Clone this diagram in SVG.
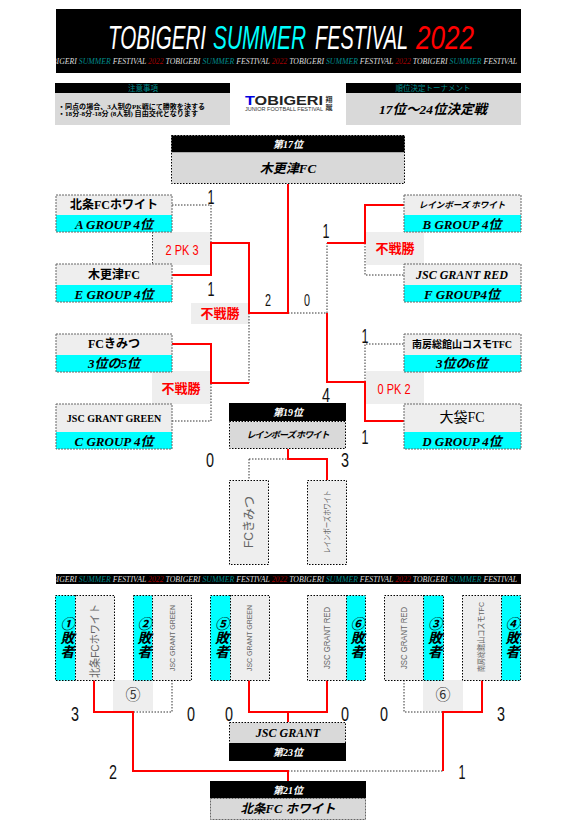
<svg xmlns="http://www.w3.org/2000/svg" width="577" height="828" viewBox="0 0 577 828">
<style>
text{font-family:"Liberation Serif","Noto Sans CJK JP",serif;text-anchor:middle;dominant-baseline:central}
.blk{fill:#000}.gry{fill:#d9d9d9}.lgt{fill:#eee}.cy{fill:#0ff}
.bd{fill:none;stroke:#666;stroke-width:1;stroke-dasharray:2 1}
.dt{fill:none;stroke:#000;stroke-width:1;stroke-dasharray:1.5 1.5}
.win{fill:none;stroke:#f00;stroke-width:2}
.lose{fill:none;stroke:#333;stroke-width:1;stroke-dasharray:1.5 1.5}
.n{font-size:12px;font-weight:bold;fill:#000}
.g{font-size:13px;font-style:italic;font-weight:bold;fill:#000}
.rk{font-size:10px;font-style:italic;font-weight:bold;fill:#fff}
.sc{font-family:"Liberation Sans",sans-serif;font-size:21px;fill:#111}
.sm{font-family:"Liberation Sans",sans-serif;font-size:16px;fill:#111}
.red{font-size:13px;font-weight:bold;fill:#f00}
.pk{font-family:"Liberation Sans",sans-serif;font-size:15px;fill:#f00}
.ban{font-size:8.7px;font-style:italic;fill:#ddd;text-anchor:start}
.v{font-family:"Liberation Sans","Noto Sans CJK JP",sans-serif;font-size:11px;fill:#666}
.lose2{font-size:14px;font-weight:bold;font-style:italic;fill:#000;writing-mode:vertical-rl}
.tt{font-family:"Liberation Sans",sans-serif;font-size:34px;font-style:italic;text-anchor:start}
</style>
<defs>
<clipPath id="c1"><rect x="56" y="9" width="465" height="64"/></clipPath>
<clipPath id="c2"><rect x="56" y="574" width="465" height="10"/></clipPath>
<text id="banner" class="ban" textLength="475" lengthAdjust="spacingAndGlyphs"><tspan>TOBIGERI </tspan><tspan fill="#008b8b">SUMMER </tspan><tspan>FESTIVAL </tspan><tspan fill="#a00000">2022 </tspan><tspan>TOBIGERI </tspan><tspan fill="#008b8b">SUMMER </tspan><tspan>FESTIVAL </tspan><tspan fill="#a00000">2022 </tspan><tspan>TOBIGERI </tspan><tspan fill="#008b8b">SUMMER </tspan><tspan>FESTIVAL </tspan><tspan fill="#a00000">2022 </tspan><tspan>TOBIGERI </tspan><tspan fill="#008b8b">SUMMER </tspan><tspan>FESTIVAL</tspan></text>
</defs>

<g id="header">
<rect x="56" y="9" width="465" height="64" class="blk"/>
<text x="108" y="37" class="tt" fill="#fff" textLength="98" lengthAdjust="spacingAndGlyphs">TOBIGERI</text>
<text x="213" y="37" class="tt" fill="#0ff" textLength="93" lengthAdjust="spacingAndGlyphs">SUMMER</text>
<text x="315" y="37" class="tt" fill="#fff" textLength="93" lengthAdjust="spacingAndGlyphs">FESTIVAL</text>
<text x="416" y="37" class="tt" fill="#f00" textLength="58" lengthAdjust="spacingAndGlyphs">2022</text>
<g clip-path="url(#c1)"><use href="#banner" x="42" y="61"/></g>
</g>
<g id="notes">
<rect x="55" y="83" width="175" height="10" class="blk"/>
<rect x="55" y="93" width="175" height="32" class="gry"/>
<text x="143" y="88" font-size="7.5" fill="#008b8b">注意事項</text>
<text x="58" y="106.500" font-size="7" font-weight="bold" textLength="147" lengthAdjust="spacingAndGlyphs" style="text-anchor:start">・同点の場合、3人制のPK戦にて勝敗を決する</text>
<text x="58" y="113.500" font-size="7" font-weight="bold" textLength="140" lengthAdjust="spacingAndGlyphs" style="text-anchor:start">・18分-8分-18分 (8人制) 自由交代となります</text>
</g>
<g id="logo">
<text x="284" y="101" font-size="12" font-weight="bold" textLength="78" lengthAdjust="spacingAndGlyphs" style="font-family:'Liberation Sans',sans-serif" fill="#222"><tspan fill="#0000e0">T</tspan>OBIGERI</text>
<text x="284" y="109" font-size="4.5" textLength="78" lengthAdjust="spacingAndGlyphs" style="font-family:'Liberation Sans',sans-serif" fill="#333">JUNIOR FOOTBALL FESTIVAL</text>
<text x="329" y="100" font-size="7" font-weight="bold" fill="#333">翔</text>
<text x="329" y="108" font-size="7" font-weight="bold" fill="#333">蹴</text>
</g>
<g id="stage">
<rect x="346" y="83" width="175" height="10" class="blk"/>
<rect x="346" y="93" width="175" height="32" class="gry"/>
<text x="433" y="88" font-size="7.5" fill="#008b8b">順位決定トーナメント</text>
<text x="433" y="109" font-size="13.500" font-weight="bold" font-style="italic">17位～24位決定戦</text>
</g>

<g id="labels">
<rect x="153" y="232" width="58" height="33" class="lgt"/><path class="lose" d="M152.500 232V264"/><text x="182" y="249" class="pk" textLength="33" lengthAdjust="spacingAndGlyphs">2 PK 3</text>
<rect x="191" y="303" width="58" height="21" class="lgt"/><text x="220" y="313" class="red">不戦勝</text>
<rect x="152" y="371" width="59" height="33" class="lgt"/><text x="181" y="388" class="red">不戦勝</text>
<rect x="366" y="232" width="58" height="33" class="lgt"/><text x="395" y="248" class="red">不戦勝</text>
<rect x="366" y="371" width="58" height="33" class="lgt"/><text x="394" y="388" class="pk" textLength="33" lengthAdjust="spacingAndGlyphs">0 PK 2</text>
<rect x="113" y="680" width="40" height="31" class="lgt"/><text x="133" y="695" font-size="15" fill="#333">⑤</text>
<rect x="423" y="680" width="40" height="31" class="lgt"/><text x="443" y="695" font-size="15" fill="#333">⑥</text>
</g>

<g id="connectors">
<path class="lose" d="M172 205H211V243M249 313V383M288 313H327V243M365 243V275H404M365 382V344H404M172 421H211V383M249 459V480M249 459H288M172 680V712H133M404 680V712H443M288 771H443"/>
<path class="win" d="M172 275H211V243H249V313H288V184M172 344H211V383H249M327 243H365V205H404M327 313V382H365V421H404M288 449V459H327V480M94 680V712H133V771H288V781M249 680V712H327V680M288 712V722M443 771V712H482V680"/>
</g>

<g id="n17">
<rect x="171.500" y="135.500" width="233" height="17" class="blk"/>
<rect x="171.500" y="152.500" width="233" height="31" class="gry"/>
<rect x="171.500" y="135.500" width="233" height="48" class="dt"/>
<text x="288" y="144" class="rk">第17位</text>
<text x="288" y="168" class="g">木更津FC</text>
</g>

<g id="a4"><rect x="56" y="195" width="116" height="20" class="lgt"/><rect x="56" y="215" width="116" height="17" class="cy"/><rect x="56" y="195" width="116" height="37" class="bd"/><text x="114" y="205" class="n">北条FCホワイト</text><text x="114" y="224" class="g">A GROUP 4位</text></g>
<g id="e4"><rect x="56" y="264" width="116" height="21" class="lgt"/><rect x="56" y="285" width="116" height="17" class="cy"/><rect x="56" y="264" width="116" height="38" class="bd"/><text x="114" y="275" class="n">木更津FC</text><text x="114" y="294" class="g">E GROUP 4位</text></g>
<g id="r5"><rect x="56" y="334" width="116" height="21" class="lgt"/><rect x="56" y="355" width="116" height="17" class="cy"/><rect x="56" y="334" width="116" height="38" class="bd"/><text x="114" y="344" class="n">FCきみつ</text><text x="114" y="363" class="g">3位の5位</text></g>
<g id="c4"><rect x="56" y="404" width="116" height="28" class="lgt"/><rect x="56" y="432" width="116" height="17" class="cy"/><rect x="56" y="404" width="116" height="45" class="bd"/><text x="114" y="418" class="n" style="font-size:10px">JSC GRANT GREEN</text><text x="114" y="441" class="g">C GROUP 4位</text></g>

<g id="b4"><rect x="404" y="195" width="117" height="20" class="lgt"/><rect x="404" y="215" width="117" height="17" class="cy"/><rect x="404" y="195" width="117" height="37" class="bd"/><text x="462" y="205" class="n" style="font-size:8.5px;font-style:italic">レインボーズ ホワイト</text><text x="462" y="224" class="g">B GROUP 4位</text></g>
<g id="f4"><rect x="404" y="264" width="117" height="21" class="lgt"/><rect x="404" y="285" width="117" height="17" class="cy"/><rect x="404" y="264" width="117" height="38" class="bd"/><text x="462" y="275" class="n" style="font-size:12px;font-style:italic">JSC GRANT RED</text><text x="462" y="294" class="g">F GROUP4位</text></g>
<g id="r6"><rect x="404" y="334" width="117" height="21" class="lgt"/><rect x="404" y="355" width="117" height="17" class="cy"/><rect x="404" y="334" width="117" height="38" class="bd"/><text x="462" y="344" class="n" style="font-size:10px">南房総館山コスモTFC</text><text x="462" y="363" class="g">3位の6位</text></g>
<g id="d4"><rect x="404" y="404" width="117" height="28" class="lgt"/><rect x="404" y="432" width="117" height="17" class="cy"/><rect x="404" y="404" width="117" height="45" class="bd"/><text x="462" y="417" class="n" style="font-size:14px;font-weight:normal">大袋FC</text><text x="462" y="441" class="g">D GROUP 4位</text></g>

<g id="scores">
<text x="211" y="196" class="sc" textLength="7" lengthAdjust="spacingAndGlyphs">1</text><text x="211" y="288" class="sc" textLength="7" lengthAdjust="spacingAndGlyphs">1</text><text x="268" y="300" class="sm" textLength="6" lengthAdjust="spacingAndGlyphs">2</text><text x="307" y="300" class="sm" textLength="6" lengthAdjust="spacingAndGlyphs">0</text>
<text x="326" y="230" class="sc" textLength="7" lengthAdjust="spacingAndGlyphs">1</text><text x="365" y="335" class="sc" textLength="7" lengthAdjust="spacingAndGlyphs">1</text><text x="365" y="436" class="sc" textLength="7" lengthAdjust="spacingAndGlyphs">1</text><text x="326" y="394" class="sc" textLength="8" lengthAdjust="spacingAndGlyphs">4</text>
<text x="210" y="459" class="sc" textLength="8" lengthAdjust="spacingAndGlyphs">0</text><text x="345" y="459" class="sc" textLength="8" lengthAdjust="spacingAndGlyphs">3</text>
<text x="75" y="713" class="sc" textLength="8" lengthAdjust="spacingAndGlyphs">3</text><text x="191" y="713" class="sc" textLength="8" lengthAdjust="spacingAndGlyphs">0</text><text x="229" y="713" class="sc" textLength="8" lengthAdjust="spacingAndGlyphs">0</text><text x="345" y="713" class="sc" textLength="8" lengthAdjust="spacingAndGlyphs">0</text><text x="384" y="713" class="sc" textLength="8" lengthAdjust="spacingAndGlyphs">0</text><text x="501" y="713" class="sc" textLength="8" lengthAdjust="spacingAndGlyphs">3</text>
<text x="113" y="771" class="sc" textLength="8" lengthAdjust="spacingAndGlyphs">2</text><text x="462" y="771" class="sc" textLength="7" lengthAdjust="spacingAndGlyphs">1</text>
</g>

<g id="n19">
<rect x="229" y="403" width="117" height="18" class="blk"/>
<rect x="229.500" y="421.500" width="116" height="27" class="gry"/>
<rect x="229.500" y="421.500" width="116" height="27" class="dt"/>
<text x="288" y="412" class="rk">第19位</text>
<text x="288" y="435" class="n" style="font-size:9px;font-style:italic" textLength="83" lengthAdjust="spacing">レインボーズ  ホワイト</text>
</g>
<g id="kimitsu"><rect x="229.500" y="480.500" width="39" height="84" class="lgt"/><rect x="229.500" y="480.500" width="39" height="84" class="dt"/><text transform="translate(248 522) rotate(-90)" class="v" style="font-size:13px" textLength="52" lengthAdjust="spacingAndGlyphs">FCきみつ</text></g>
<g id="rainbow"><rect x="307.500" y="480.500" width="39" height="84" class="lgt"/><rect x="307.500" y="480.500" width="39" height="84" class="dt"/><text transform="translate(327 522) rotate(-90)" class="v" style="font-size:8px" textLength="63" lengthAdjust="spacingAndGlyphs">レインボーズホワイト</text></g>

<g clip-path="url(#c2)" id="banner2"><rect x="56" y="574" width="465" height="10" class="blk"/><use href="#banner" x="42" y="579"/></g>

<g id="l1"><rect x="55.500" y="595.500" width="20" height="85" class="cy"/><rect x="75.500" y="595.500" width="39" height="85" class="lgt"/><rect x="55.500" y="595.500" width="59" height="85" class="dt"/><path class="dt" d="M75.500 595V680"/><text x="66" y="638" class="lose2">①敗者</text><text transform="translate(95 641) rotate(-90)" class="v" textLength="74" lengthAdjust="spacingAndGlyphs">北条FCホワイト</text></g>
<g id="l2"><rect x="133.500" y="595.500" width="19" height="85" class="cy"/><rect x="152.500" y="595.500" width="39" height="85" class="lgt"/><rect x="133.500" y="595.500" width="58" height="85" class="dt"/><path class="dt" d="M152.500 595V680"/><text x="143" y="638" class="lose2">②敗者</text><text transform="translate(172 638) rotate(-90)" class="v" style="font-size:8px" textLength="66" lengthAdjust="spacingAndGlyphs">JSC GRANT GREEN</text></g>
<g id="l5"><rect x="210.500" y="595.500" width="20" height="85" class="cy"/><rect x="230.500" y="595.500" width="39" height="85" class="lgt"/><rect x="210.500" y="595.500" width="59" height="85" class="dt"/><path class="dt" d="M230.500 595V680"/><text x="220.500" y="638" class="lose2">⑤敗者</text><text transform="translate(249 638) rotate(-90)" class="v" style="font-size:8px" textLength="66" lengthAdjust="spacingAndGlyphs">JSC GRANT GREEN</text></g>
<g id="l6"><rect x="307.500" y="595.500" width="39" height="85" class="lgt"/><rect x="346.500" y="595.500" width="19" height="85" class="cy"/><rect x="307.500" y="595.500" width="58" height="85" class="dt"/><path class="dt" d="M346.500 595V680"/><text x="356" y="638" class="lose2">⑥敗者</text><text transform="translate(327 638) rotate(-90)" class="v" style="font-size:9px" textLength="62" lengthAdjust="spacingAndGlyphs">JSC GRANT RED</text></g>
<g id="l3"><rect x="384.500" y="595.500" width="39" height="85" class="lgt"/><rect x="423.500" y="595.500" width="20" height="85" class="cy"/><rect x="384.500" y="595.500" width="59" height="85" class="dt"/><path class="dt" d="M423.500 595V680"/><text x="433.500" y="638" class="lose2">③敗者</text><text transform="translate(404 638) rotate(-90)" class="v" style="font-size:9px" textLength="62" lengthAdjust="spacingAndGlyphs">JSC GRANT RED</text></g>
<g id="l4"><rect x="462.500" y="595.500" width="39" height="85" class="lgt"/><rect x="501.500" y="595.500" width="19" height="85" class="cy"/><rect x="462.500" y="595.500" width="58" height="85" class="dt"/><path class="dt" d="M501.500 595V680"/><text x="511" y="638" class="lose2">④敗者</text><text transform="translate(481 637) rotate(-90)" class="v" style="font-size:8px" textLength="70" lengthAdjust="spacingAndGlyphs">南房総館山コスモTFC</text></g>

<g id="n23">
<rect x="229.500" y="722.500" width="116" height="21" class="gry"/>
<rect x="229" y="743" width="117" height="18" class="blk"/>
<rect x="229.500" y="722.500" width="116" height="21" class="dt"/>
<text x="288" y="733" class="g" style="font-size:12px">JSC GRANT</text>
<text x="288" y="752" class="rk">第23位</text>
</g>
<g id="n21">
<rect x="210" y="781" width="156" height="17" class="blk"/>
<rect x="210.500" y="798.500" width="155" height="21" class="gry"/>
<rect x="210.500" y="798.500" width="155" height="21" class="bd"/>
<text x="288" y="790" class="rk">第21位</text>
<text x="288" y="809" class="g" style="font-size:12.500px">北条FC ホワイト</text>
</g>
</svg>
